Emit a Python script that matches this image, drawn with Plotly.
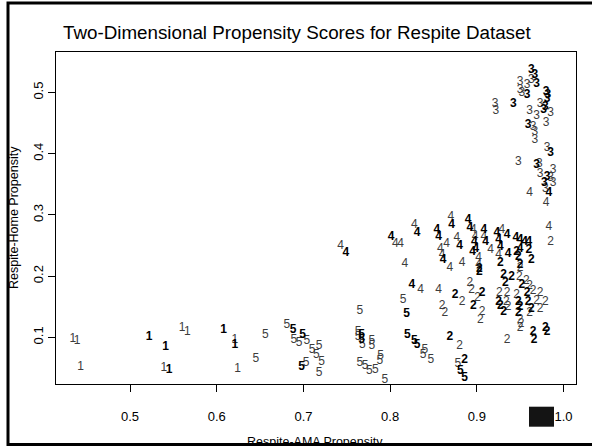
import plotly.graph_objects as go

# ---- data ----
ones_x = [0.434, 0.439, 0.443, 0.522, 0.541, 0.539, 0.545, 0.560, 0.566, 0.608, 0.621, 0.621, 0.624]
ones_y = [0.098, 0.094, 0.051, 0.100, 0.084, 0.050, 0.047, 0.115, 0.109, 0.112, 0.096, 0.087, 0.049]
ones_b = [0, 0, 0, 1, 1, 0, 1, 0, 0, 1, 0, 1, 0]

fives_x = [0.656, 0.645, 0.681, 0.688, 0.699, 0.689, 0.695, 0.704, 0.710, 0.718, 0.715, 0.721, 0.698, 0.703, 0.718,
           0.763, 0.767, 0.763, 0.767, 0.768, 0.779, 0.779, 0.765, 0.771, 0.776, 0.783, 0.789, 0.788, 0.794, 0.765,
           0.815, 0.819, 0.820, 0.828, 0.831, 0.840, 0.838, 0.847, 0.878, 0.881, 0.886]
fives_y = [0.103, 0.064, 0.120, 0.112, 0.104, 0.096, 0.091, 0.094, 0.080, 0.086, 0.071, 0.060, 0.051, 0.058, 0.041,
           0.109, 0.104, 0.101, 0.096, 0.087, 0.094, 0.086, 0.058, 0.053, 0.045, 0.046, 0.069, 0.062, 0.030, 0.143,
           0.161, 0.138, 0.104, 0.094, 0.087, 0.079, 0.071, 0.063, 0.056, 0.045, 0.033]
fives_b = [0, 0, 0, 1, 1, 0, 0, 0, 0, 0, 0, 0, 1, 0, 0,
           0, 1, 0, 1, 0, 0, 0, 0, 0, 0, 0, 0, 0, 0, 0,
           0, 1, 1, 1, 1, 0, 0, 0, 0, 1, 1]

twos_x = [0.869, 0.880, 0.886, 0.860, 0.863, 0.875, 0.883, 0.896, 0.892, 0.894, 0.906, 0.901, 0.906, 0.904, 0.903, 0.903,
          0.960, 0.963, 0.946, 0.948, 0.950, 0.927, 0.950,
          0.931, 0.940, 0.949, 0.957, 0.933, 0.952, 0.961, 0.926, 0.935, 0.946, 0.958, 0.965, 0.973,
          0.925, 0.934, 0.948, 0.959, 0.969, 0.979, 0.927, 0.936, 0.950, 0.963, 0.973, 0.931, 0.948, 0.961,
          0.950, 0.951, 0.950, 0.965, 0.966, 0.979, 0.981, 0.935, 0.985]
twos_y = [0.100, 0.085, 0.063, 0.151, 0.139, 0.169, 0.158, 0.151, 0.189, 0.177, 0.173, 0.164, 0.142, 0.128, 0.212, 0.207,
          0.243, 0.226, 0.240, 0.231, 0.218, 0.221, 0.214,
          0.202, 0.199, 0.199, 0.192, 0.188, 0.185, 0.184, 0.172, 0.172, 0.169, 0.172, 0.175, 0.172,
          0.158, 0.158, 0.158, 0.158, 0.160, 0.157, 0.151, 0.150, 0.150, 0.147, 0.147, 0.142, 0.139, 0.140,
          0.129, 0.122, 0.115, 0.109, 0.096, 0.115, 0.109, 0.096, 0.256]
twos_b = [1, 0, 1, 0, 0, 1, 0, 1, 0, 0, 1, 0, 0, 0, 1, 1,
          1, 1, 1, 1, 1, 1, 0,
          1, 1, 0, 0, 1, 1, 0, 0, 0, 0, 1, 0, 0,
          1, 0, 1, 1, 0, 0, 1, 0, 1, 1, 0, 1, 1, 0,
          0, 0, 0, 1, 1, 1, 1, 0, 0]

fours_x = [0.825, 0.835, 0.856, 0.817, 0.743, 0.749, 0.801, 0.806, 0.812, 0.828, 0.831, 0.854, 0.856, 0.858, 0.865,
           0.860, 0.861, 0.869, 0.883, 0.877, 0.880, 0.870, 0.871, 0.890, 0.892, 0.896, 0.898, 0.897, 0.899, 0.895,
           0.902, 0.902, 0.908, 0.908, 0.910, 0.916, 0.923, 0.929, 0.925, 0.927, 0.935, 0.945, 0.950, 0.955, 0.960,
           0.925, 0.936, 0.950, 0.961, 0.980, 0.983, 0.983]
fours_y = [0.185, 0.177, 0.177, 0.220, 0.249, 0.238, 0.264, 0.252, 0.252, 0.283, 0.270, 0.275, 0.264, 0.244, 0.252,
           0.234, 0.226, 0.213, 0.221, 0.262, 0.249, 0.297, 0.284, 0.292, 0.278, 0.275, 0.264, 0.256, 0.245, 0.240,
           0.229, 0.218, 0.275, 0.264, 0.255, 0.243, 0.270, 0.275, 0.259, 0.248, 0.267, 0.262, 0.259, 0.256, 0.255,
           0.234, 0.236, 0.245, 0.336, 0.320, 0.281, 0.335]
fours_b = [1, 0, 0, 0, 0, 1, 1, 0, 0, 0, 1, 1, 1, 0, 0,
           0, 1, 0, 0, 0, 1, 0, 1, 1, 1, 0, 0, 1, 1, 1,
           0, 0, 1, 0, 1, 0, 1, 0, 1, 1, 1, 1, 1, 1, 1,
           0, 1, 1, 0, 0, 0, 1]

threes_x = [0.963, 0.967, 0.963, 0.969, 0.950, 0.958, 0.950, 0.958, 0.952, 0.980, 0.982, 0.981, 0.921, 0.922,
            0.942, 0.973, 0.979, 0.977, 0.985, 0.961, 0.969, 0.980, 0.959, 0.965, 0.967, 0.967, 0.948, 0.981,
            0.985, 0.969, 0.972, 0.988, 0.973, 0.981, 0.985, 0.988, 0.978, 0.979]
threes_y = [0.537, 0.529, 0.520, 0.514, 0.518, 0.512, 0.504, 0.496, 0.499, 0.501, 0.496, 0.490, 0.482, 0.469,
            0.482, 0.482, 0.477, 0.471, 0.466, 0.469, 0.462, 0.451, 0.447, 0.444, 0.436, 0.422, 0.387, 0.409,
            0.401, 0.382, 0.384, 0.373, 0.367, 0.362, 0.360, 0.352, 0.352, 0.342]
threes_b = [1, 1, 0, 1, 0, 0, 0, 1, 0, 1, 1, 1, 0, 0,
            1, 0, 1, 1, 0, 0, 0, 0, 1, 0, 0, 0, 0, 0,
            1, 1, 0, 0, 0, 1, 0, 0, 1, 0]

x_ticks = [0.5, 0.6, 0.7, 0.8, 0.9, 1.0]
x_tick_labels = ["0.5", "0.6", "0.7", "0.8", "0.9", "1.0"]
y_ticks = [0.1, 0.2, 0.3, 0.4, 0.5]
y_tick_labels = ["0.1", "0.2", "0.3", "0.4", "0.5"]

groups = [("1", ones_x, ones_y, ones_b), ("2", twos_x, twos_y, twos_b), ("3", threes_x, threes_y, threes_b),
          ("4", fours_x, fours_y, fours_b), ("5", fives_x, fives_y, fives_b)]

FONT = "Liberation Sans, Arial, Helvetica, sans-serif"

fig = go.Figure()
for bold in (0, 1):
    xs, ys, ts = [], [], []
    for lab, gx, gy, gb in groups:
        for xv, yv, bv in zip(gx, gy, gb):
            if bv == bold:
                xs.append(xv); ys.append(yv); ts.append(lab)
    fig.add_trace(go.Scatter(
        x=xs, y=ys, text=ts, mode="text", textposition="middle center",
        textfont=dict(family=FONT, size=12, color="#000000" if bold else "#3c3c3c",
                      weight="bold" if bold else "normal"),
        hoverinfo="skip", showlegend=False, cliponaxis=False))

W, H = 592, 446
L, R, T, B = 56, 16, 52, 62
pw, ph = W - L - R, H - T - B

def px(p):
    return (p - L) / pw

def py(p):
    return (H - B - p) / ph

axis_common = dict(showgrid=False, zeroline=False, showline=True, linecolor="black", linewidth=1,
                   mirror=True, ticks="outside", ticklen=7, tickwidth=1, tickcolor="black",
                   tickfont=dict(family=FONT, size=13, color="black"))

fig.update_layout(
    width=W, height=H,
    margin=dict(l=L, r=R, t=T, b=B, pad=0),
    paper_bgcolor="white", plot_bgcolor="white",
    xaxis=dict(range=[0.4146, 1.0144], tickvals=x_ticks, ticktext=x_tick_labels,
               ticklabelstandoff=13, **axis_common),
    yaxis=dict(range=[0.0237, 0.5662], tickvals=y_ticks, ticktext=y_tick_labels,
               tickangle=-90, ticklabelstandoff=0, **axis_common),
    annotations=[
        dict(text="Two-Dimensional Propensity Scores for Respite Dataset", xref="paper", yref="paper",
             x=px(297), y=py(33), xanchor="center", yanchor="middle", showarrow=False,
             font=dict(family=FONT, size=18.8, color="black")),
        dict(text="Respite-AMA Propensity", xref="paper", yref="paper",
             x=px(315), y=py(442), xanchor="center", yanchor="middle", showarrow=False,
             font=dict(family=FONT, size=12.5, color="black")),
        dict(text="Respite-Home Propensity", xref="paper", yref="paper",
             x=px(14), y=py(218), xanchor="center", yanchor="middle", showarrow=False, textangle=-90,
             font=dict(family=FONT, size=12.5, color="black")),
    ],
    shapes=[
        dict(type="rect", xref="paper", yref="paper", x0=px(8), x1=px(610), y0=py(444.5), y1=py(3),
             line=dict(color="black", width=3), fillcolor="rgba(0,0,0,0)", layer="above"),
        dict(type="rect", xref="paper", yref="paper", x0=px(529), x1=px(554), y0=py(426.7), y1=py(406.7),
             line=dict(width=0), fillcolor="#141414", layer="above"),
    ],
)

fig.write_html("out.html")
